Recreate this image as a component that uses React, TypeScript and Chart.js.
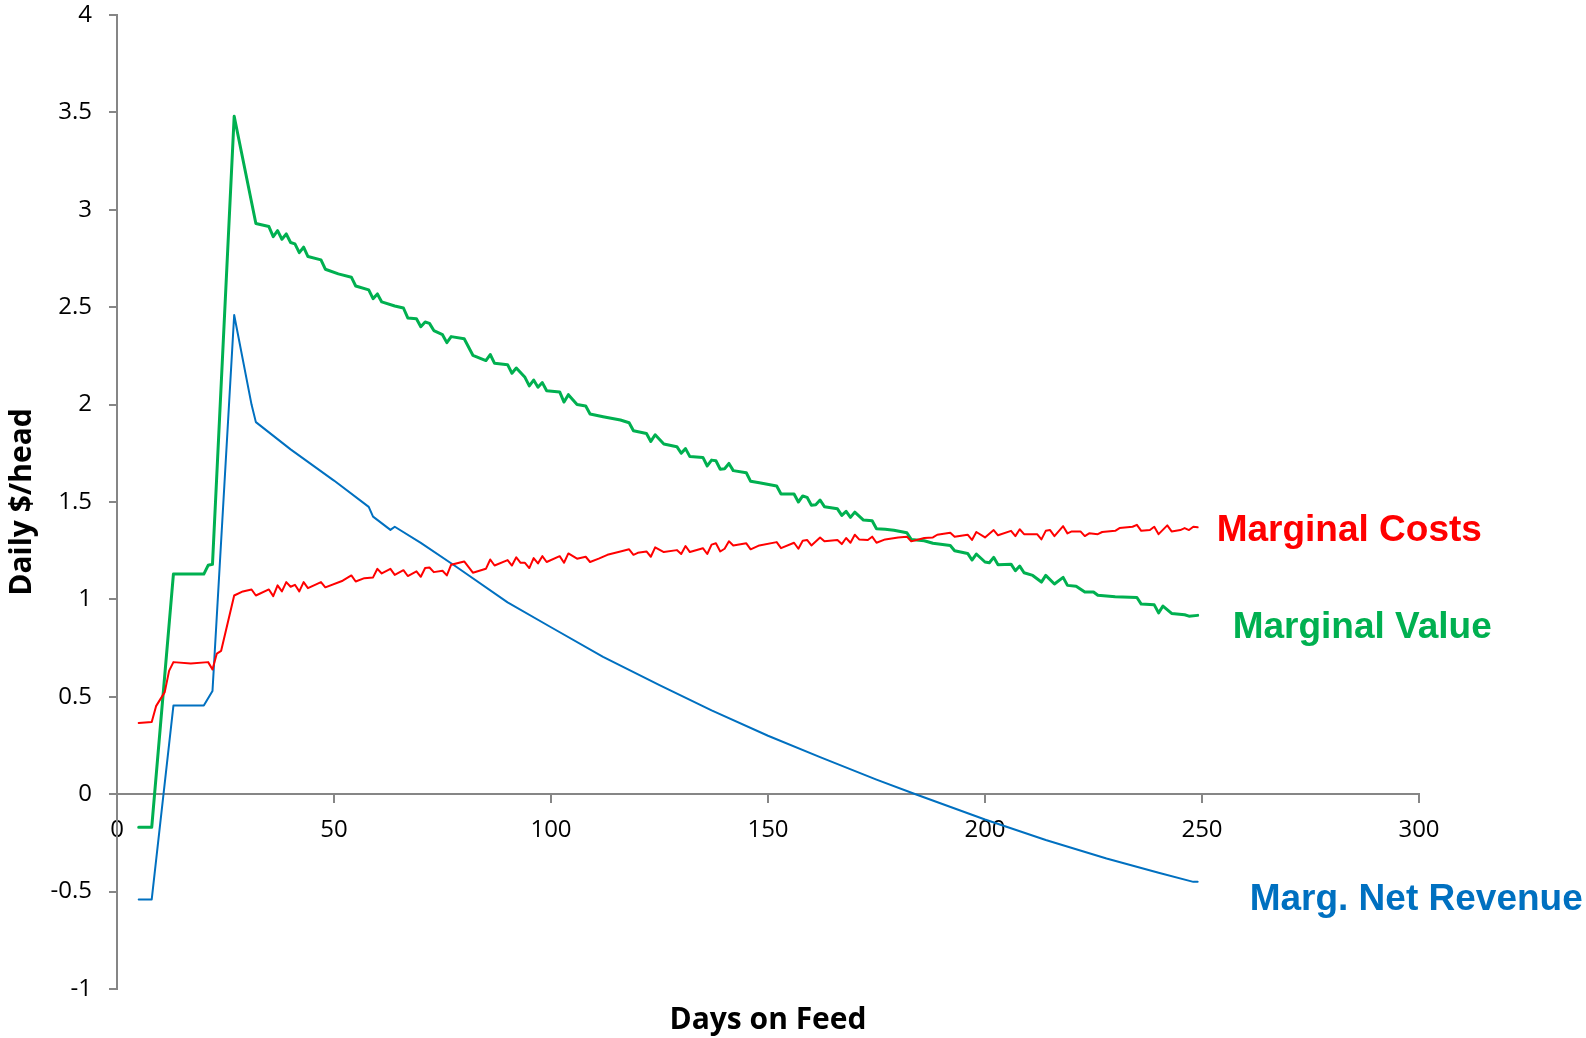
import { useEffect, useRef } from "react";
import { Chart, registerables } from "chart.js";

Chart.register(...registerables);

// [day on feed, $/head per day]
const marginalCosts: [number, number][] = [
  [5, 0.366], [8, 0.371], [9, 0.452], [11, 0.524], [12, 0.633], [13, 0.678], [17, 0.671], [21, 0.678],
  [22, 0.64], [23, 0.722], [24, 0.736], [27, 1.02], [29, 1.041], [31, 1.051], [32, 1.02], [35, 1.051],
  [36, 1.017], [37, 1.072], [38, 1.041], [39, 1.089], [40, 1.065], [41, 1.075], [42, 1.041], [43, 1.089],
  [44, 1.058], [47, 1.089], [48, 1.062], [52, 1.096], [54, 1.123], [55, 1.092], [57, 1.109], [59, 1.113],
  [60, 1.157], [61, 1.133], [63, 1.157], [64, 1.126], [66, 1.15], [67, 1.12], [69, 1.144], [70, 1.116],
  [71, 1.161], [72, 1.164], [73, 1.14], [75, 1.147], [76, 1.123], [77, 1.178], [80, 1.195], [82, 1.137],
  [85, 1.157], [86, 1.205], [87, 1.174], [90, 1.202], [91, 1.174], [92, 1.216], [93, 1.188], [94, 1.188],
  [95, 1.161], [96, 1.212], [97, 1.185], [98, 1.222], [99, 1.192], [102, 1.222], [103, 1.188], [104, 1.236],
  [106, 1.209], [108, 1.219], [109, 1.192], [111, 1.209], [113, 1.229], [116, 1.246], [118, 1.257], [119, 1.229],
  [120, 1.239], [122, 1.246], [123, 1.219], [124, 1.267], [126, 1.243], [129, 1.253], [130, 1.233], [131, 1.274],
  [132, 1.243], [135, 1.263], [136, 1.233], [137, 1.281], [138, 1.288], [139, 1.246], [140, 1.26], [141, 1.298],
  [142, 1.277], [145, 1.288], [146, 1.257], [148, 1.277], [152, 1.294], [153, 1.263], [156, 1.291], [157, 1.26],
  [158, 1.301], [159, 1.305], [160, 1.277], [162, 1.318], [163, 1.298], [166, 1.305], [167, 1.284], [168, 1.315],
  [169, 1.291], [170, 1.332], [171, 1.308], [173, 1.305], [174, 1.322], [175, 1.291], [177, 1.308], [180, 1.318],
  [182, 1.322], [183, 1.298], [186, 1.315], [188, 1.318], [189, 1.332], [192, 1.342], [193, 1.322], [196, 1.332],
  [197, 1.305], [198, 1.346], [200, 1.318], [202, 1.356], [203, 1.329], [206, 1.352], [207, 1.325], [208, 1.36],
  [209, 1.335], [212, 1.335], [213, 1.308], [214, 1.352], [215, 1.356], [216, 1.325], [218, 1.376], [219, 1.339],
  [220, 1.349], [222, 1.349], [223, 1.325], [224, 1.339], [226, 1.335], [227, 1.346], [230, 1.352], [231, 1.366],
  [234, 1.373], [235, 1.383], [236, 1.352], [238, 1.356], [239, 1.373], [240, 1.335], [242, 1.38], [243, 1.349],
  [245, 1.356], [246, 1.366], [247, 1.356], [248, 1.373], [249, 1.37],
];

const marginalValue: [number, number][] = [
  [5, -0.17], [8, -0.17], [13, 1.13], [20, 1.13], [21, 1.175], [22, 1.18], [27, 3.48], [32, 2.93],
  [35, 2.914], [36, 2.862], [37, 2.893], [38, 2.849], [39, 2.876], [40, 2.832], [41, 2.825], [42, 2.78],
  [43, 2.808], [44, 2.76], [47, 2.743], [48, 2.695], [51, 2.671], [54, 2.654], [55, 2.609], [58, 2.589],
  [59, 2.544], [60, 2.568], [61, 2.527], [64, 2.506], [66, 2.496], [67, 2.445], [69, 2.441], [70, 2.4],
  [71, 2.424], [72, 2.417], [73, 2.38], [75, 2.359], [76, 2.318], [77, 2.349], [80, 2.338], [82, 2.253],
  [85, 2.226], [86, 2.257], [87, 2.212], [90, 2.205], [91, 2.161], [92, 2.188], [94, 2.14], [95, 2.096],
  [96, 2.126], [97, 2.089], [98, 2.113], [99, 2.071], [102, 2.065], [103, 2.013], [104, 2.051], [106, 2.0],
  [108, 1.993], [109, 1.952], [112, 1.938], [116, 1.921], [118, 1.907], [119, 1.866], [122, 1.852], [123, 1.811],
  [124, 1.845], [126, 1.798], [129, 1.784], [130, 1.75], [131, 1.774], [132, 1.733], [135, 1.729], [136, 1.685],
  [137, 1.715], [138, 1.712], [139, 1.668], [140, 1.671], [141, 1.698], [142, 1.661], [145, 1.65], [146, 1.606],
  [148, 1.599], [152, 1.582], [153, 1.541], [156, 1.541], [157, 1.5], [158, 1.531], [159, 1.524], [160, 1.483],
  [161, 1.486], [162, 1.51], [163, 1.476], [166, 1.465], [167, 1.431], [168, 1.452], [169, 1.421], [170, 1.448],
  [172, 1.407], [174, 1.404], [175, 1.363], [177, 1.36], [179, 1.355], [182, 1.342], [183, 1.308], [186, 1.301],
  [188, 1.288], [192, 1.277], [193, 1.25], [196, 1.236], [197, 1.202], [198, 1.233], [200, 1.192], [201, 1.188],
  [202, 1.216], [203, 1.178], [206, 1.181], [207, 1.147], [208, 1.171], [209, 1.137], [211, 1.123], [213, 1.089],
  [214, 1.123], [216, 1.079], [218, 1.113], [219, 1.072], [221, 1.068], [223, 1.038], [225, 1.038], [226, 1.021],
  [230, 1.014], [235, 1.01], [236, 0.976], [239, 0.972], [240, 0.931], [241, 0.966], [243, 0.928], [246, 0.921],
  [247, 0.914], [249, 0.918],
];

const margNetRevenue: [number, number][] = [
  [5, -0.54], [8, -0.54], [13, 0.455], [20, 0.455], [22, 0.53], [27, 2.46], [31, 2.0], [32, 1.91],
  [40, 1.77], [50, 1.61], [58, 1.475], [59, 1.425], [63, 1.357], [64, 1.373], [70, 1.29], [78, 1.17],
  [90, 0.985], [100, 0.857], [112, 0.705], [125, 0.56], [137, 0.43], [150, 0.3], [162, 0.19], [175, 0.075],
  [184, 0.0], [200, -0.13], [214, -0.235], [228, -0.33], [240, -0.403], [248, -0.45], [249, -0.45],
];

const seriesNames = ["Marginal Costs", "Marginal Value", "Marg. Net Revenue"];
const seriesPoints = [marginalCosts, marginalValue, margNetRevenue];
const seriesColors = ["#FF0000", "#00B050", "#0070C0"];
const seriesWidths = [2, 3, 2];
// Where each series name sits relative to the series' last point (px)
const nameOffsets: [number, number][] = [[19, 14], [35, 23], [52, 28]];

const xTitle = "Days on Feed";
const yTitle = "Daily $/head";

const AXIS_GREY = "#868686";
const TICK_FONT = { family: "'Open Sans', sans-serif", size: 24 };

const seriesNamePlugin = {
  id: "seriesNames",
  afterDatasetsDraw(chart: Chart) {
    const ctx = chart.ctx;
    chart.data.datasets.forEach((ds: any, i: number) => {
      const pts = chart.getDatasetMeta(i).data;
      const last = pts[pts.length - 1];
      if (!last) return;
      const [dx, dy] = nameOffsets[i];
      ctx.save();
      ctx.font = "bold 37px 'Liberation Sans', Arial, sans-serif";
      ctx.fillStyle = ds.borderColor;
      ctx.textAlign = "left";
      ctx.textBaseline = "alphabetic";
      ctx.fillText(ds.label, last.x + dx, last.y + dy);
      ctx.restore();
    });
  },
};

const axisTitlePlugin = {
  id: "axisTitles",
  afterDraw(chart: Chart) {
    const { ctx, chartArea } = chart;
    const { left, right, top, bottom } = chartArea;
    ctx.save();
    ctx.font = "bold 30px 'Open Sans', sans-serif";
    ctx.fillStyle = "#000";
    ctx.textAlign = "center";
    ctx.textBaseline = "alphabetic";
    ctx.fillText(xTitle, (left + right) / 2, bottom + 40);
    ctx.translate(31, (top + bottom) / 2);
    ctx.rotate(-Math.PI / 2);
    ctx.fillText(yTitle, 0, 0);
    ctx.restore();
  },
};

const plainNumber = (v: number | string) => `${Number(v)}`;

export default function App() {
  const canvasRef = useRef<HTMLCanvasElement>(null);

  useEffect(() => {
    const canvas = canvasRef.current;
    if (!canvas) return;
    const chart = new Chart(canvas, {
      type: "line",
      data: {
        datasets: seriesNames.map((name, i) => ({
          label: name,
          data: seriesPoints[i].map(([x, y]) => ({ x, y })),
          borderColor: seriesColors[i],
          backgroundColor: seriesColors[i],
          borderWidth: seriesWidths[i],
          borderJoinStyle: "round",
          borderCapStyle: "round",
          pointRadius: 0,
          tension: 0,
          fill: false,
        })),
      },
      options: {
        responsive: false,
        animation: false,
        devicePixelRatio: 1,
        layout: { padding: { top: 15, right: 167, bottom: 49, left: 0 } },
        plugins: {
          legend: { display: false },
          tooltip: { enabled: false },
        },
        scales: {
          x: {
            type: "linear",
            position: { y: 0 },
            min: 0,
            max: 300,
            ticks: { stepSize: 50, color: "#000", font: TICK_FONT, padding: 14, maxRotation: 0, callback: plainNumber },
            grid: { drawOnChartArea: false, drawTicks: true, tickLength: 8, color: AXIS_GREY, lineWidth: 2 },
            border: { display: true, color: AXIS_GREY, width: 2 },
          },
          y: {
            type: "linear",
            position: "left",
            min: -1,
            max: 4,
            ticks: { stepSize: 0.5, color: "#000", font: TICK_FONT, padding: 17, callback: plainNumber },
            grid: { drawOnChartArea: false, drawTicks: true, tickLength: 8, color: AXIS_GREY, lineWidth: 2 },
            border: { display: true, color: AXIS_GREY, width: 2 },
            afterFit: (scale: any) => {
              scale.width = 117;
              scale.paddingTop = 0;
              scale.paddingBottom = 0;
            },
          },
        },
      } as any,
      plugins: [seriesNamePlugin, axisTitlePlugin],
    });
    return () => chart.destroy();
  }, []);

  return (
    <div style={{ position: "absolute", left: 0, top: 0, width: 1586, height: 1038, background: "#fff" }}>
      <canvas ref={canvasRef} width={1586} height={1038} style={{ display: "block" }} />
    </div>
  );
}
